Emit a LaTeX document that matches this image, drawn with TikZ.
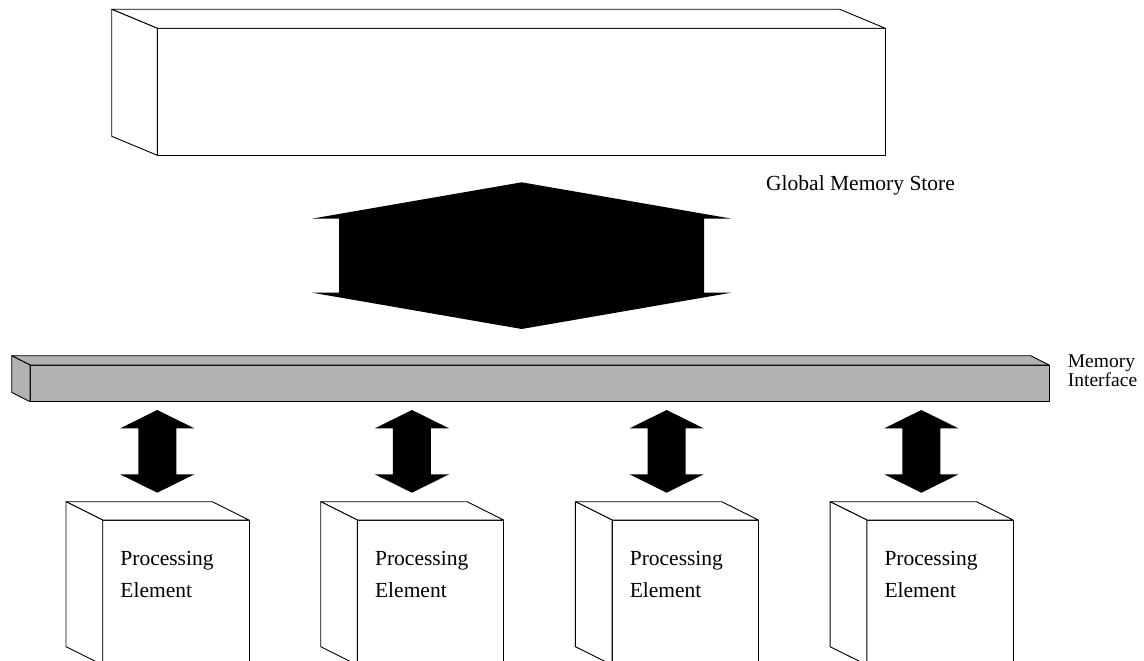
\documentclass[tikz,border=0pt]{standalone}
\usepackage{fontspec}
\setmainfont{Liberation Serif}
\usetikzlibrary{calc}
\tikzstyle{face} = [draw, fill=white, line width=0.9pt, line join=round]
\tikzstyle{barface} = [face, fill=black!30]
\tikzstyle{front} = [rectangle, inner sep=0pt, outer sep=0pt, anchor=north west]
\tikzstyle{caption} = [inner sep=0pt, anchor=north west, align=left]
\tikzstyle{bigtext} = [font=\fontsize{21.5}{32}\selectfont]
\tikzstyle{smalltext} = [font=\fontsize{19.5}{19}\selectfont]
% top and left faces of a box, #1 node, #2/#3 depth offset, #4 style
\newcommand{\depthfaces}[4]{
    \path [#4] (#1.north west) -- ++(#2,#3) -- ($(#1.north east)+(#2,#3)$) -- (#1.north east) -- cycle;
    \path [#4] (#1.north west) -- ++(#2,#3) -- ($(#1.south west)+(#2,#3)$) -- (#1.south west) -- cycle;
}
% fat two-headed arrow, #1 top tip, #2 bottom tip, #3 half head, #4 half shaft, #5 head length
\newcommand{\fatarrow}[5]{
    \fill (#1) -- ($(#1)+(#3,#5)$) -- ($(#1)+(#4,#5)$) -- ($(#2)+(#4,-#5)$) -- ($(#2)+(#3,-#5)$)
        -- (#2) -- ($(#2)+(-#3,-#5)$) -- ($(#2)+(-#4,-#5)$) -- ($(#1)+(-#4,#5)$) -- ($(#1)+(-#3,#5)$) -- cycle;
}
\begin{document}
\begin{tikzpicture}[x=1pt, y=-1pt]
    \clip (0,0) rectangle (1144,661);
    % Global memory
    \node [front, face, minimum width=728pt, minimum height=127pt] (store) at (157.3,28.3) {};
    \depthfaces{store}{-45.6}{-19}{face}
    \node [caption, bigtext, anchor=base west] (storelabel) at (766,190) {Global Memory Store};
    % Memory interface
    \node [front, barface, minimum width=1019pt, minimum height=36.7pt] (bar) at (30,365) {};
    \depthfaces{bar}{-18.3}{-9.3}{barface}
    \node [caption, smalltext] (barlabel) at (1067.7,355) {Memory\\Interface};
    % Wide arrow between store and interface
    \coordinate (bigtop) at ($(store.south)+(0.4,27)$);
    \coordinate (bigbot) at ($(store.south)+(0.4,173.7)$);
    \fatarrow{bigtop}{bigbot}{209.5}{182.5}{36.3}
    % Processing elements
    \foreach \i/\x in {1/102.7, 2/357.4, 3/612.1, 4/866.8} {
        \node [front, face, minimum width=146.3pt, minimum height=145pt] (pe\i) at (\x,520) {};
        \depthfaces{pe\i}{-36.7}{-18.3}{face}
        \node [caption, bigtext] (pe\i text) at ($(pe\i.north west)+(17.5,31.5)$) {Processing\\Element};
        \coordinate (pe\i top) at ($(pe\i.north)+(-18.6,-110)$);
        \coordinate (pe\i bot) at ($(pe\i.north)+(-18.6,-27.3)$);
        \fatarrow{pe\i top}{pe\i bot}{37}{19}{18.3}
    }
\end{tikzpicture}
\end{document}
